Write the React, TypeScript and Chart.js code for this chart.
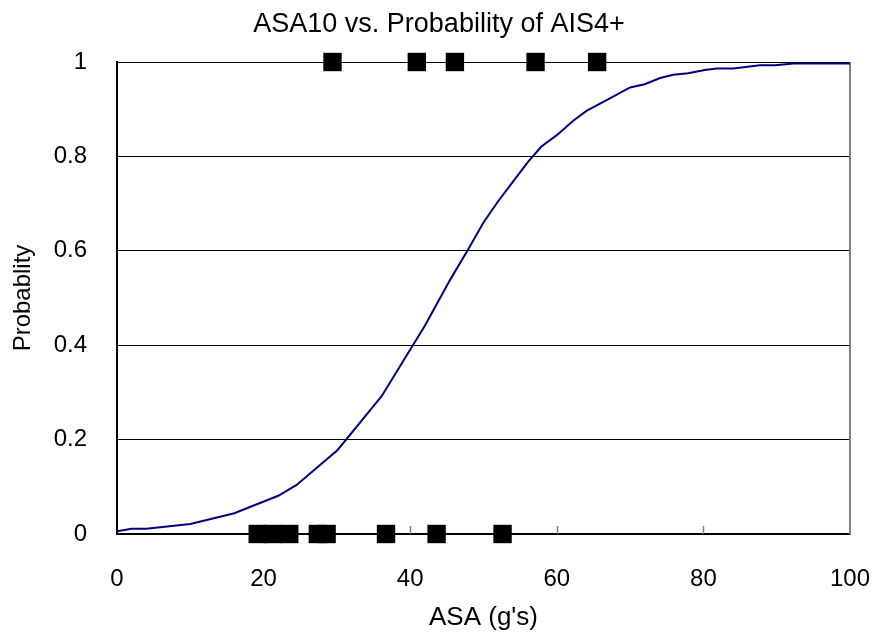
import React, { useEffect, useRef } from 'react';
import { Chart, registerables } from 'chart.js';

Chart.register(...registerables);

// Fitted probability curve
const curveX = [0, 2, 4, 10, 16, 22, 24.5, 30.1, 36.1, 42, 45.5, 47.8, 50, 52, 54, 56.1, 57.9, 60, 62.2, 64.1, 66.8, 70, 72, 74.1, 75.9, 77.9, 80.2, 81.8, 84.1, 87.7, 89.8, 92.3, 100, 101.6];
const curveY = [0.006, 0.011, 0.011, 0.021, 0.044, 0.081, 0.104, 0.178, 0.292, 0.441, 0.54, 0.6, 0.66, 0.705, 0.746, 0.789, 0.821, 0.845, 0.875, 0.897, 0.919, 0.946, 0.953, 0.966, 0.973, 0.976, 0.983, 0.986, 0.986, 0.993, 0.993, 0.997, 0.997, 0.997];

// Observed cases: AIS4+ (value 1) and not (value 0)
const injuredX = [29.4, 40.9, 46.1, 57.1, 65.5];
const uninjuredX = [19.2, 21.2, 23.5, 27.4, 28.6, 36.7, 43.6, 52.6];

const xTickValues = [0, 20, 40, 60, 80, 100];
const yTickValues = [0, 0.2, 0.4, 0.6, 0.8, 1];

const FONT = '"Liberation Sans", Arial, sans-serif';

const framePlugin = {
  id: 'frame',
  beforeDatasetsDraw(chart: any) {
    const { ctx, chartArea, scales } = chart;
    ctx.save();
    // right border of plot area
    ctx.strokeStyle = '#808080';
    ctx.lineWidth = 2;
    ctx.beginPath();
    ctx.moveTo(chartArea.right, chartArea.top);
    ctx.lineTo(chartArea.right, chartArea.bottom);
    ctx.stroke();
    // inner tick marks on x axis
    ctx.lineWidth = 1.5;
    ctx.strokeStyle = '#808080';
    for (const v of xTickValues) {
      if (v === 0 || v === 100) continue;
      const px = Math.round(scales.x.getPixelForValue(v)) + 0.5;
      ctx.beginPath();
      ctx.moveTo(px, chartArea.bottom);
      ctx.lineTo(px, chartArea.bottom - 8);
      ctx.stroke();
    }
    ctx.restore();
  },
};

export default function App() {
  const ref = useRef<HTMLCanvasElement | null>(null);

  useEffect(() => {
    if (!ref.current) return;
    const chart = new Chart(ref.current, {
      type: 'scatter',
      data: {
        datasets: [
          {
            label: 'Probability',
            data: curveX.map((x, i) => ({ x, y: curveY[i] })),
            showLine: true,
            borderColor: '#000080',
            borderWidth: 2,
            pointRadius: 0,
            fill: false,
            clip: false as any,
          },
          {
            label: 'AIS4+',
            data: injuredX.map((x) => ({ x, y: 1 })),
            pointStyle: 'rect',
            pointRadius: 13,
            backgroundColor: '#000000',
            borderWidth: 0,
            clip: false as any,
          },
          {
            label: 'Not AIS4+',
            data: uninjuredX.map((x) => ({ x, y: 0 })),
            pointStyle: 'rect',
            pointRadius: 13,
            backgroundColor: '#000000',
            borderWidth: 0,
            clip: false as any,
          },
        ],
      },
      options: {
        animation: false,
        responsive: false,
        devicePixelRatio: 1,
        layout: { padding: { left: 0, right: 0, top: 0, bottom: 0 } },
        plugins: {
          legend: { display: false },
          tooltip: { enabled: false },
          title: {
            display: true,
            text: 'ASA10 vs. Probability of AIS4+',
            color: '#000000',
            font: { family: FONT, size: 27, weight: 'normal' as any },
            padding: { top: 8, bottom: 21.6 },
          },
        },
        scales: {
          x: {
            type: 'linear',
            min: 0,
            max: 100,
            afterBuildTicks: (scale: any) => {
              scale.ticks = xTickValues.map((v) => ({ value: v }));
            },
            afterFit: (scale: any) => {
              scale.height = 102;
              scale.paddingRight = 28;
            },
            grid: { display: false, drawTicks: true, tickLength: 23 },
            border: { display: true, color: '#000000', width: 1.5 },
            ticks: {
              color: '#000000',
              font: { family: FONT, size: 24 },
              padding: 8,
              maxRotation: 0,
              callback: (v: any) => String(Number(v)),
            },
            title: {
              display: true,
              text: "ASA (g's)",
              color: '#000000',
              font: { family: FONT, size: 26 },
              padding: { top: 0, bottom: 3 },
            },
          },
          y: {
            type: 'linear',
            min: 0,
            max: 1,
            afterBuildTicks: (scale: any) => {
              scale.ticks = yTickValues.map((v) => ({ value: v }));
            },
            afterFit: (scale: any) => {
              scale.width = 117;
            },
            grid: { display: true, color: '#000000', lineWidth: 1, drawTicks: false },
            border: { display: true, color: '#000000', width: 2 },
            ticks: {
              color: '#000000',
              font: { family: FONT, size: 24 },
              padding: 30,
              callback: (v: any) => String(Number(v)),
            },
            title: {
              display: true,
              text: 'Probablity',
              color: '#000000',
              font: { family: FONT, size: 24 },
              padding: { top: 9, bottom: 0 },
            },
          },
        },
      },
      plugins: [framePlugin],
    });
    return () => chart.destroy();
  }, []);

  return (
    <div style={{ position: 'fixed', left: 0, top: 0, width: 878, height: 636, background: '#ffffff' }}>
      <canvas ref={ref} width={878} height={636} style={{ display: 'block', width: 878, height: 636 }} />
    </div>
  );
}
